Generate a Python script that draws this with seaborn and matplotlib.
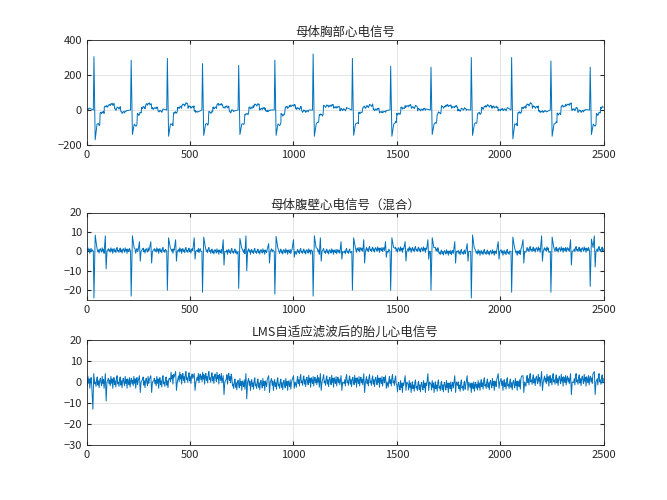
import numpy as np
import pandas as pd
import seaborn as sns
import matplotlib
matplotlib.use("Agg")
import matplotlib.pyplot as plt

sns.set_style("white")
plt.rcParams['font.family'] = ['Noto Sans CJK SC', 'DejaVu Sans']

# values (sample index / amplitude)
mat_beats = [35, 215, 390, 560, 735, 910, 1095, 1285, 1470, 1665, 1860, 2055, 2245, 2435]
mat_peaks = [305, 285, 295, 265, 255, 285, 320, 295, 250, 245, 300, 300, 280, 245]
mat_troughs = [-170, -140, -150, -145, -140, -145, -150, -145, -150, -140, -145, -165, -150, -140]
abd_spikes = [-24, -23, -20, -21, -19, -22, -23, -20, -20, -20, -24, -21, -21, -18]
fet_beats = [90, 255, 310, 430, 520, 660, 770, 880, 1000, 1130, 1230, 1340, 1445, 1540,
             1650, 1780, 1840, 1990, 2110, 2200, 2340, 2455]
fet_up = [8, 5, 5, 6, 7, 6, 8, 4, 6, 7, 5, 6, 5, 5, 6, 5, 4, 5, 6, 8, 6, 8]
fet_down = [-9, -5, -6, -5, -4, -7, -10, -6, -3, -5, -4, -6, -3, -5, -4, -6, -5, -4, -6, -5, -7, -8]
lms_up = [4, 3, 3, 5, 4, 3, 4, 3, 3, 4, 3, 4, 3, 3, 4, 3, 3, 4, 3, 5, 4, 5]
lms_down = [-9, -5, -5, -4, -4, -6, -8, -5, -3, -4, -4, -5, -3, -4, -4, -5, -4, -3, -5, -4, -6, -6]
lms_extra = [(30, -13), (34, 4)]
wiggle = [0.3, -0.6, 0.9, -0.2, 0.5, -1.0, 0.1, 0.7, -0.4, 0.2, -0.8, 0.6, 1.0, -0.3, 0.0,
          -0.7, 0.4, 0.8, -0.5, 0.2, -0.9, 0.3, 0.6, -0.1, -0.6, 0.9, -0.2, 0.4, -1.0, 0.5,
          0.1, -0.4, 0.7, -0.8, 0.2, 0.6, -0.3]
chest_wave = [(15, -80), (30, -20), (50, 15), (70, 25), (100, 10), (130, -5)]
abd_drift = [(0, 0.5), (600, 0.0), (1300, 1.0), (1700, -0.5), (2100, 1.0)]
lms_drift = [(0, 0), (400, 2), (700, -1), (1000, 0.5), (1500, -2), (1900, -1), (2100, 1), (2500, 1.5)]


def chest_points():
    base = {0: 0}
    for b, p, t in zip(mat_beats, mat_peaks, mat_troughs):
        base.update({b - 3: 0, b: p, b + 6: t})
        base.update({b + dx: y for dx, y in chest_wave})
    keys = sorted(base)
    allx, ally = [], []
    k = 0
    for i, x in enumerate(range(0, 2501, 3)):
        while k < len(keys) and keys[k] <= x:
            allx.append(keys[k]); ally.append(base[keys[k]]); k += 1
        near = min(abs(x - b) for b in mat_beats)
        if 20 < near < 150:
            lvl = ally[-1] if ally else 0
            allx.append(x); ally.append(lvl + 12 * wiggle[i % len(wiggle)])
    return allx, ally


def abd_points(mat_amp, up, down, scale, drift, extra=()):
    events = {}
    for b, a in zip(mat_beats, mat_amp):
        if a:
            events.update({b - 3: 0, b: a, b + 6: -a * 0.35, b + 14: 2})
    for f, u, d in zip(fet_beats, up, down):
        events.update({f: u, f + 4: d, f + 8: 0})
    events.update(dict(extra))
    keys = sorted(events)
    allx, ally = [], []
    k = 0
    for i, x in enumerate(range(0, 2501, 3)):
        while k < len(keys) and keys[k] <= x:
            allx.append(keys[k]); ally.append(events[keys[k]]); k += 1
        if min(abs(x - e) for e in keys) > 4:
            dv = [v for d, v in drift if d <= x][-1]
            allx.append(x); ally.append(dv + 1.5 * scale * wiggle[i % len(wiggle)])
    return allx, ally


cx, cy = chest_points()
ax_, ay_ = abd_points(abd_spikes, fet_up, fet_down, 1.0, abd_drift)
lx, ly = abd_points([0] * len(mat_beats), lms_up, lms_down, 2.0, lms_drift, lms_extra)

fig = plt.figure(figsize=(6.67, 5), dpi=100)
rects = [[0.13, 0.71, 0.775, 0.21], [0.13, 0.40, 0.775, 0.175], [0.13, 0.11, 0.775, 0.21]]
series = [(cx, cy, "母体胸部心电信号", (-200, 400), [-200, 0, 200, 400]),
          (ax_, ay_, "母体腹壁心电信号（混合）", (-25, 20), [-20, -10, 0, 10, 20]),
          (lx, ly, "LMS自适应滤波后的胎儿心电信号", (-30, 20), [-30, -20, -10, 0, 10, 20])]
for rect, (x, y, title, ylim, yt) in zip(rects, series):
    ax = fig.add_axes(rect)
    df = pd.DataFrame({"n": x, "v": y})
    sns.lineplot(data=df, x="n", y="v", ax=ax, color="#0072BD", linewidth=0.7, sort=False)
    ax.set_xlim(0, 2500)
    ax.set_ylim(*ylim)
    ax.set_yticks(yt)
    ax.set_xticks([0, 500, 1000, 1500, 2000, 2500])
    ax.set_xlabel("")
    ax.set_ylabel("")
    ax.set_title(title, fontsize=9, pad=3)
    ax.grid(True, color="#e0e0e0", linewidth=0.6)
    ax.tick_params(labelsize=8, direction="in", length=3, top=True, right=True, bottom=True, left=True)
    for s in ax.spines.values():
        s.set_color("#262626"); s.set_linewidth(0.6)

fig.savefig("out.png", dpi=100)
